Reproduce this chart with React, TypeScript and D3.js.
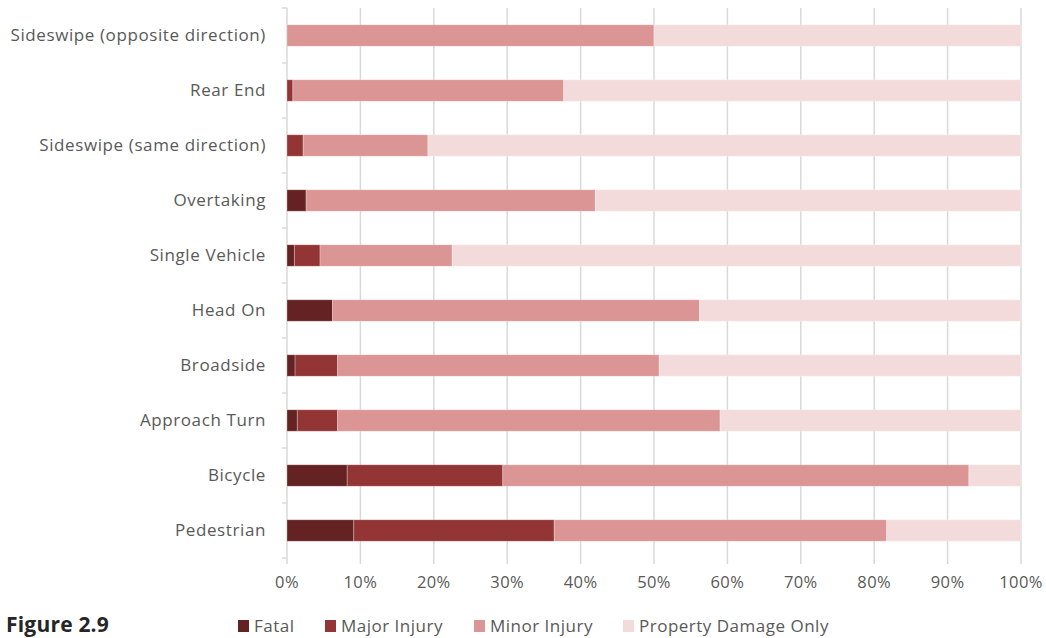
import * as React from 'react';
import * as d3 from 'd3';

const categories = [
  'Sideswipe (opposite direction)',
  'Rear End',
  'Sideswipe (same direction)',
  'Overtaking',
  'Single Vehicle',
  'Head On',
  'Broadside',
  'Approach Turn',
  'Bicycle',
  'Pedestrian',
];
const seriesNames = ['Fatal', 'Major Injury', 'Minor Injury', 'Property Damage Only'];
const fatal = [0, 0, 0, 2.6, 1.0, 6.2, 1.1, 1.4, 8.2, 9.1];
const major = [0, 0.8, 2.2, 0, 3.5, 0, 5.8, 5.5, 21.2, 27.3];
const minor = [50.0, 36.9, 17.0, 39.4, 18.0, 50.0, 43.8, 52.1, 63.5, 45.3];
const ticks = [0, 10, 20, 30, 40, 50, 60, 70, 80, 90, 100];
const colors = ['#642222', '#943535', '#da9594', '#f3dbdb'];

const W = 1046, H = 638;
const FONT = '"Open Sans", sans-serif';

export default function App() {
  const svgRef = React.useRef<SVGSVGElement>(null);

  React.useEffect(() => {
    const svg = d3.select(svgRef.current);
    svg.selectAll('*').remove();

    const rows = categories.map((c, i) => {
      const pdo = 100 - fatal[i] - major[i] - minor[i];
      return { cat: c, vals: [fatal[i], major[i], minor[i], pdo] };
    });

    const x = d3.scaleLinear().domain([0, 100]).range([287, 1021]);
    const y = d3.scaleBand().domain(categories).range([8, 558]).paddingInner(0.61).paddingOuter(0.305);
    const yTicks = d3.scaleBand().domain(categories).range([8, 558]);

    // gridlines
    svg.append('g')
      .selectAll('line')
      .data(ticks.slice(1))
      .enter()
      .append('line')
      .attr('x1', d => x(d)).attr('x2', d => x(d))
      .attr('y1', 8).attr('y2', 564)
      .attr('stroke', '#d9d9d9').attr('stroke-width', 1.5);

    // left axis line + ticks
    svg.append('line')
      .attr('x1', x(0)).attr('x2', x(0)).attr('y1', 8).attr('y2', 564)
      .attr('stroke', '#d9d9d9').attr('stroke-width', 1.5);
    svg.append('g')
      .selectAll('line')
      .data([...categories.map(c => yTicks(c) || 0), 558])
      .enter()
      .append('line')
      .attr('x1', x(0) - 5).attr('x2', x(0))
      .attr('y1', d => d).attr('y2', d => d)
      .attr('stroke', '#d9d9d9').attr('stroke-width', 1.5);

    // bars
    const stack = d3.stack<{ cat: string; vals: number[] }, number>()
      .keys([0, 1, 2, 3])
      .value((d, k) => d.vals[k]);
    const layers = stack(rows);

    svg.append('g')
      .selectAll('g')
      .data(layers)
      .enter()
      .append('g')
      .attr('fill', (_d, i) => colors[i])
      .selectAll('rect')
      .data(d => d)
      .enter()
      .append('rect')
      .attr('x', d => x(d[0]))
      .attr('width', d => Math.max(0, x(d[1]) - x(d[0])))
      .attr('y', d => y(d.data.cat) || 0)
      .attr('height', y.bandwidth())
      .attr('stroke', d => (d[1] - d[0] > 0 ? 'rgba(255,255,255,0.35)' : 'none'))
      .attr('stroke-width', 0.8);

    // category labels
    svg.append('g')
      .selectAll('text')
      .data(categories)
      .enter()
      .append('text')
      .text(d => d)
      .attr('x', 266)
      .attr('y', d => (y(d) || 0) + y.bandwidth() / 2)
      .attr('dy', '0.35em')
      .attr('text-anchor', 'end')
      .attr('font-family', FONT)
      .attr('font-size', 17)
      .attr('letter-spacing', 0.6)
      .attr('fill', '#595959');

    // x tick labels
    svg.append('g')
      .selectAll('text')
      .data(ticks)
      .enter()
      .append('text')
      .text(d => `${d}%`)
      .attr('x', d => x(d))
      .attr('y', 588)
      .attr('text-anchor', 'middle')
      .attr('font-family', FONT)
      .attr('font-size', 16.5)
      .attr('letter-spacing', 0.4)
      .attr('fill', '#595959');

    // legend
    const legendX = [238, 325, 474, 623];
    const lg = svg.append('g')
      .selectAll('g')
      .data(seriesNames)
      .enter()
      .append('g')
      .attr('transform', (_d, i) => `translate(${legendX[i]}, 632)`);
    lg.append('rect')
      .attr('x', 0).attr('y', -12).attr('width', 11).attr('height', 12)
      .attr('fill', (_d, i) => colors[i]);
    lg.append('text')
      .text(d => d)
      .attr('x', 16)
      .attr('y', 0)
      .attr('font-family', FONT)
      .attr('font-size', 17)
      .attr('letter-spacing', 0.5)
      .attr('fill', '#595959');

    svg.append('text')
      .text('Figure 2.9')
      .attr('x', 6)
      .attr('y', 632)
      .attr('font-family', FONT)
      .attr('font-weight', 'bold')
      .attr('font-size', 21)
      .attr('letter-spacing', 0.2)
      .attr('fill', '#262626');
  }, []);

  return (
    <svg ref={svgRef} width={W} height={H}
      style={{ position: 'absolute', left: 0, top: 0, background: '#fff' }} />
  );
}
